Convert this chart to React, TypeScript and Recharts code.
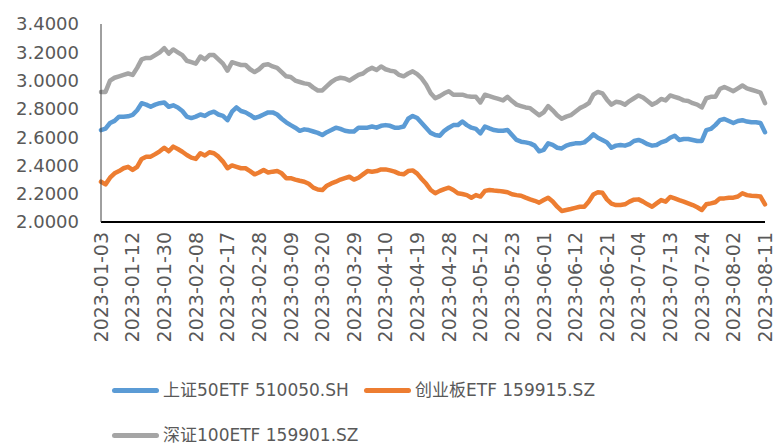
import React from 'react';
import { LineChart, Line, XAxis, YAxis, Legend } from 'recharts';

const FONT = "'DejaVu Sans', 'Noto Sans CJK SC', sans-serif";
const TEXT = '#595959';

// Trading days 2023-01-03 .. 2023-08-11
const jan = [3, 4, 5, 6, 9, 10, 11, 12, 13, 16, 17, 18, 19, 20, 30, 31];
const feb = [1, 2, 3, 6, 7, 8, 9, 10, 13, 14, 15, 16, 17, 20, 21, 22, 23, 24, 27, 28];
const mar = [1, 2, 3, 6, 7, 8, 9, 10, 13, 14, 15, 16, 17, 20, 21, 22, 23, 24, 27, 28, 29, 30, 31];
const apr = [3, 4, 6, 7, 10, 11, 12, 13, 14, 17, 18, 19, 20, 21, 24, 25, 26, 27, 28];
const may = [4, 5, 8, 9, 10, 11, 12, 15, 16, 17, 18, 19, 22, 23, 24, 25, 26, 29, 30, 31];
const jun = [1, 2, 5, 6, 7, 8, 9, 12, 13, 14, 15, 16, 19, 20, 21, 26, 27, 28, 29, 30];
const jul = [3, 4, 5, 6, 7, 10, 11, 12, 13, 14, 17, 18, 19, 20, 21, 24, 25, 26, 27, 28, 31];
const aug = [1, 2, 3, 4, 7, 8, 9, 10, 11];

const months = [jan, feb, mar, apr, may, jun, jul, aug];
const pad = (n: number) => (n < 10 ? '0' + n : '' + n);
const dates: string[] = [];
months.forEach((days, m) => days.forEach((d) => dates.push(`2023-${pad(m + 1)}-${pad(d)}`)));

// 上证50ETF 510050.SH
const sh50 = [
  2.65, 2.66, 2.70, 2.715, 2.745, 2.745, 2.747, 2.757, 2.79, 2.84,
  2.83, 2.815, 2.83, 2.84, 2.845, 2.815, 2.825, 2.81, 2.785, 2.745,
  2.735, 2.745, 2.76, 2.75, 2.77, 2.78, 2.76, 2.75, 2.72, 2.78,
  2.81, 2.785, 2.775, 2.757, 2.735, 2.745, 2.76, 2.775, 2.775, 2.76,
  2.73, 2.705, 2.685, 2.667, 2.645, 2.655, 2.65, 2.64, 2.63, 2.615,
  2.635, 2.65, 2.667, 2.658, 2.645, 2.64, 2.64, 2.667, 2.667, 2.667,
  2.675, 2.667, 2.68, 2.685, 2.68, 2.667, 2.667, 2.675, 2.73, 2.75,
  2.735, 2.70, 2.665, 2.63, 2.615, 2.61, 2.645, 2.667, 2.685, 2.685,
  2.71, 2.685, 2.667, 2.658, 2.627, 2.675, 2.662, 2.65, 2.645, 2.645,
  2.65, 2.615, 2.58, 2.568, 2.563, 2.556, 2.54, 2.50, 2.51, 2.556,
  2.545, 2.525, 2.52, 2.54, 2.55, 2.556, 2.556, 2.563, 2.588, 2.62,
  2.596, 2.58, 2.563, 2.525, 2.54, 2.545, 2.54, 2.55, 2.573, 2.58,
  2.568, 2.55, 2.54, 2.545, 2.563, 2.573, 2.596, 2.61, 2.58, 2.587,
  2.587, 2.58, 2.573, 2.573, 2.65, 2.658, 2.685, 2.72, 2.728, 2.714,
  2.70, 2.714, 2.72, 2.71, 2.705, 2.705, 2.70, 2.635,
];

// 创业板ETF 159915.SZ
const cyb = [
  2.285, 2.266, 2.313, 2.344, 2.36, 2.38, 2.39, 2.368, 2.39, 2.446,
  2.462, 2.462, 2.48, 2.50, 2.525, 2.50, 2.533, 2.516, 2.497, 2.474,
  2.455, 2.446, 2.486, 2.47, 2.493, 2.486, 2.462, 2.427, 2.38, 2.40,
  2.39, 2.38, 2.38, 2.36, 2.337, 2.35, 2.368, 2.35, 2.356, 2.36,
  2.344, 2.31, 2.31, 2.30, 2.292, 2.285, 2.27, 2.243, 2.23, 2.226,
  2.257, 2.273, 2.285, 2.30, 2.31, 2.32, 2.30, 2.313, 2.337, 2.36,
  2.356, 2.36, 2.372, 2.372, 2.365, 2.356, 2.342, 2.337, 2.36, 2.365,
  2.342, 2.304, 2.27, 2.226, 2.203, 2.22, 2.233, 2.243, 2.226, 2.203,
  2.198, 2.19, 2.172, 2.19, 2.18, 2.22, 2.226, 2.222, 2.22, 2.215,
  2.21, 2.196, 2.19, 2.186, 2.172, 2.16, 2.15, 2.137, 2.155, 2.172,
  2.145, 2.108, 2.078, 2.085, 2.092, 2.10, 2.108, 2.108, 2.145, 2.195,
  2.21, 2.207, 2.16, 2.13, 2.12, 2.12, 2.125, 2.144, 2.158, 2.16,
  2.144, 2.125, 2.108, 2.132, 2.155, 2.144, 2.177, 2.167, 2.155, 2.144,
  2.132, 2.12, 2.104, 2.085, 2.125, 2.132, 2.14, 2.167, 2.167, 2.172,
  2.172, 2.18, 2.203, 2.19, 2.186, 2.184, 2.18, 2.125,
];

// 深证100ETF 159901.SZ
const sz100 = [
  2.92, 2.92, 3.00, 3.02, 3.03, 3.04, 3.05, 3.04, 3.09, 3.15,
  3.16, 3.16, 3.18, 3.20, 3.23, 3.19, 3.22, 3.20, 3.18, 3.14,
  3.13, 3.12, 3.17, 3.15, 3.18, 3.18, 3.15, 3.12, 3.07, 3.13,
  3.12, 3.11, 3.11, 3.08, 3.06, 3.08, 3.11, 3.115, 3.10, 3.09,
  3.06, 3.03, 3.025, 3.00, 2.99, 2.98, 2.975, 2.95, 2.93, 2.93,
  2.96, 2.99, 3.01, 3.02, 3.015, 3.00, 3.02, 3.04, 3.05, 3.075,
  3.09, 3.075, 3.10, 3.08, 3.07, 3.065, 3.04, 3.03, 3.05, 3.065,
  3.045, 3.015, 2.97, 2.91, 2.875, 2.89, 2.91, 2.925, 2.90, 2.90,
  2.90, 2.89, 2.885, 2.885, 2.845, 2.90, 2.89, 2.88, 2.87, 2.86,
  2.885, 2.855, 2.83, 2.82, 2.81, 2.805, 2.78, 2.755, 2.775, 2.82,
  2.79, 2.755, 2.73, 2.745, 2.755, 2.78, 2.805, 2.82, 2.84, 2.90,
  2.92, 2.91, 2.865, 2.83, 2.85, 2.845, 2.83, 2.855, 2.875, 2.895,
  2.88, 2.855, 2.83, 2.845, 2.87, 2.86, 2.895, 2.885, 2.875, 2.86,
  2.855, 2.84, 2.83, 2.81, 2.875, 2.885, 2.885, 2.94, 2.955, 2.94,
  2.925, 2.945, 2.965, 2.945, 2.935, 2.925, 2.915, 2.84,
];

const yTicks = [2.0, 2.2, 2.4, 2.6, 2.8, 3.0, 3.2, 3.4];

const seriesNames = ['上证50ETF 510050.SH', '创业板ETF 159915.SZ', '深证100ETF 159901.SZ'];
const seriesKeys = ['sh50', 'cyb', 'sz100'];
const seriesColors = ['#5B9BD5', '#ED7D31', '#A5A5A5'];

const data = dates.map((d, i) => ({ date: d, sh50: sh50[i], cyb: cyb[i], sz100: sz100[i] }));

const XTick = (props: any) => {
  const { x, y, payload } = props;
  return (
    <g transform={`translate(${x},${y})`}>
      <text
        transform="rotate(-90)"
        x={0}
        y={0}
        dy="0.36em"
        textAnchor="end"
        fill={TEXT}
        fontSize={19}
        fontFamily={FONT}
      >
        {payload.value}
      </text>
    </g>
  );
};

const legendPos = [
  { left: 0, top: 8 },
  { left: 252, top: 8 },
  { left: 0, top: 53 },
];

const renderLegend = () => (
  <div style={{ position: 'relative', width: 560, height: 80 }}>
    {seriesNames.map((name, i) => (
      <div
        key={name}
        style={{
          position: 'absolute',
          left: legendPos[i].left,
          top: legendPos[i].top,
          height: 24,
          display: 'flex',
          alignItems: 'center',
          whiteSpace: 'nowrap',
        }}
      >
        <div style={{ width: 47, height: 5, borderRadius: 3, background: seriesColors[i], marginRight: 4 }} />
        <span style={{ fontFamily: FONT, fontSize: 17, color: TEXT, lineHeight: '24px' }}>{name}</span>
      </div>
    ))}
  </div>
);

export default function App() {
  return (
    <div style={{ position: 'absolute', left: 0, top: 0, width: 778, height: 446, background: '#fff' }}>
      <LineChart width={778} height={446} data={data} margin={{ top: 24, right: 13, left: 0, bottom: 0 }}>
        <XAxis
          dataKey="date"
          interval={6}
          tickLine={false}
          tickSize={0}
          tickMargin={10}
          height={224}
          axisLine={{ stroke: '#000', strokeWidth: 2 }}
          tick={<XTick />}
        />
        <YAxis
          type="number"
          domain={[2, 3.4]}
          ticks={yTicks}
          width={101}
          tickLine={false}
          tickSize={0}
          tickMargin={22}
          axisLine={{ stroke: '#404040', strokeWidth: 1 }}
          tickFormatter={(v: number) => v.toFixed(4)}
          tick={{ fill: TEXT, fontSize: 18, fontFamily: FONT }}
        />
        {seriesKeys.map((k, i) => (
          <Line
            key={k}
            type="linear"
            dataKey={k}
            name={seriesNames[i]}
            stroke={seriesColors[i]}
            strokeWidth={4.5}
            strokeLinejoin="round"
            strokeLinecap="round"
            dot={false}
            activeDot={false}
            isAnimationActive={false}
          />
        ))}
        <Legend
          layout="horizontal"
          verticalAlign="middle"
          align="center"
          wrapperStyle={{ left: 112, top: 370, width: 560, height: 80 }}
          content={renderLegend}
        />
      </LineChart>
    </div>
  );
}
